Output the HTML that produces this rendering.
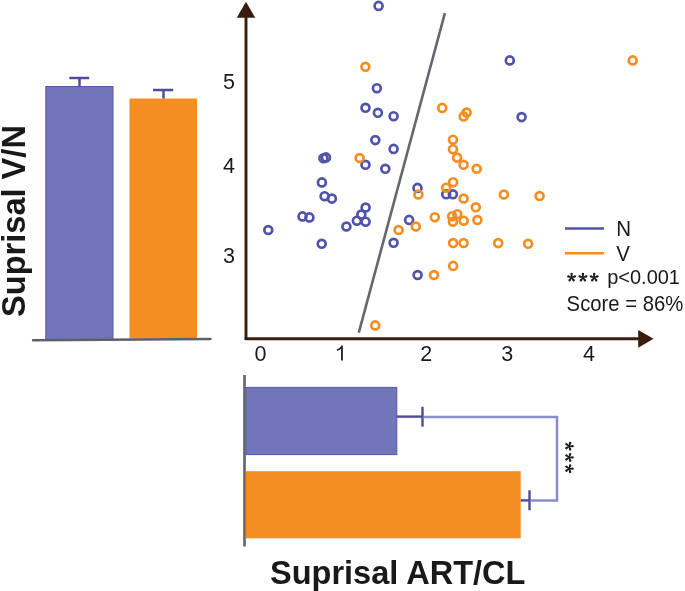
<!DOCTYPE html>
<html><head><meta charset="utf-8"><style>
html,body{margin:0;padding:0;background:#fff;}
body{width:685px;height:591px;overflow:hidden;position:relative;}
svg{position:absolute;left:0;top:0;will-change:transform;}
text{font-family:"Liberation Sans",sans-serif;}
</style></head><body>
<svg width="685" height="591" viewBox="0 0 685 591">
<!-- top-left bar chart -->
<rect x="45.8" y="86.5" width="67.2" height="253" fill="#7175b9" stroke="#5558a8" stroke-width="1"/>
<rect x="129.5" y="98.5" width="67.5" height="240" fill="#f48d22"/>
<g stroke="#4e4e94" stroke-width="2.5" fill="none">
<line x1="79.5" y1="78" x2="79.5" y2="86.5"/>
<line x1="69.3" y1="78" x2="89.3" y2="78"/>
<line x1="163.5" y1="90" x2="163.5" y2="98.5"/>
<line x1="153" y1="90" x2="173.2" y2="90"/>
</g>
<line x1="33" y1="340.2" x2="210.5" y2="339" stroke="#5e6068" stroke-width="2.4" stroke-linecap="round"/>
<text transform="translate(24.6,317) rotate(-90)" font-size="32.6" font-weight="bold" fill="#1a1818">Suprisal V/N</text>

<!-- scatter axes -->
<g stroke="#3a1d0e" fill="none">
<line x1="246" y1="14" x2="246" y2="338.8" stroke-width="2.9"/>
<line x1="244.6" y1="338.8" x2="640" y2="338.8" stroke-width="2.9"/>
</g>
<polygon points="246,1.7 236.7,17.8 255.2,17.8" fill="#3a1d0e"/>
<polygon points="653.6,338.8 638.2,329.9 638.2,347.8" fill="#3a1d0e"/>
<g font-size="21.5" fill="#1a1a1a">
<text x="229" y="89" text-anchor="middle">5</text>
<text x="229" y="173" text-anchor="middle">4</text>
<text x="229" y="263.4" text-anchor="middle">3</text>
<text x="260.4" y="360.5" text-anchor="middle">0</text>
<text x="426.3" y="360.5" text-anchor="middle">2</text>
<text x="507.2" y="360.5" text-anchor="middle">3</text>
<text x="589" y="360.5" text-anchor="middle">4</text>
</g>
<path d="M341.95 345.4V360.4M342.3 346.2C341.2 348.2 339.5 349.4 337.0 350.3" stroke="#1a1a1a" stroke-width="1.75" fill="none"/>
<!-- regression line -->
<line x1="444.9" y1="13.2" x2="358.8" y2="332.6" stroke="#66676d" stroke-width="2.6"/>
<!-- points -->
<g fill="none" stroke="#5053aa" stroke-width="2.7">
<circle cx="378.6" cy="5.9" r="3.95"/>
<circle cx="509.8" cy="60.4" r="3.95"/>
<circle cx="376.9" cy="88.2" r="3.95"/>
<circle cx="365.5" cy="107.8" r="3.95"/>
<circle cx="377.9" cy="112.8" r="3.95"/>
<circle cx="393.6" cy="116.2" r="3.95"/>
<circle cx="521.6" cy="117.1" r="3.95"/>
<circle cx="375.3" cy="140.1" r="3.95"/>
<circle cx="393.6" cy="148.9" r="3.95"/>
<circle cx="323.4" cy="158.2" r="3.95"/>
<circle cx="326.0" cy="157.4" r="3.95"/>
<circle cx="365.5" cy="164.8" r="3.95"/>
<circle cx="385.3" cy="168.8" r="3.95"/>
<circle cx="321.9" cy="182.4" r="3.95"/>
<circle cx="324.6" cy="196.2" r="3.95"/>
<circle cx="331.9" cy="198.6" r="3.95"/>
<circle cx="417.5" cy="187.9" r="3.95"/>
<circle cx="446.2" cy="194.3" r="3.95"/>
<circle cx="452.9" cy="194.3" r="3.95"/>
<circle cx="365.6" cy="207.5" r="3.95"/>
<circle cx="361.3" cy="214.6" r="3.95"/>
<circle cx="302.5" cy="216.4" r="3.95"/>
<circle cx="309.4" cy="217.4" r="3.95"/>
<circle cx="356.9" cy="220.7" r="3.95"/>
<circle cx="365.6" cy="221.7" r="3.95"/>
<circle cx="346.4" cy="226.5" r="3.95"/>
<circle cx="268.3" cy="230.0" r="3.95"/>
<circle cx="409.1" cy="219.9" r="3.95"/>
<circle cx="393.6" cy="242.8" r="3.95"/>
<circle cx="321.7" cy="243.8" r="3.95"/>
<circle cx="417.6" cy="275.0" r="3.95"/>
</g>
<g fill="none" stroke="#f48d22" stroke-width="2.7">
<circle cx="365.4" cy="66.8" r="3.95"/>
<circle cx="632.7" cy="60.4" r="3.95"/>
<circle cx="442.2" cy="107.9" r="3.95"/>
<circle cx="466.6" cy="112.6" r="3.95"/>
<circle cx="463.6" cy="116.4" r="3.95"/>
<circle cx="453.0" cy="139.7" r="3.95"/>
<circle cx="453.0" cy="149.2" r="3.95"/>
<circle cx="457.1" cy="157.6" r="3.95"/>
<circle cx="359.6" cy="158.0" r="3.95"/>
<circle cx="463.6" cy="164.8" r="3.95"/>
<circle cx="476.7" cy="168.8" r="3.95"/>
<circle cx="453.1" cy="182.2" r="3.95"/>
<circle cx="446.2" cy="187.7" r="3.95"/>
<circle cx="418.4" cy="194.5" r="3.95"/>
<circle cx="463.6" cy="198.5" r="3.95"/>
<circle cx="503.9" cy="194.5" r="3.95"/>
<circle cx="539.6" cy="196.0" r="3.95"/>
<circle cx="475.8" cy="207.3" r="3.95"/>
<circle cx="434.8" cy="217.2" r="3.95"/>
<circle cx="452.2" cy="216.2" r="3.95"/>
<circle cx="457.3" cy="214.2" r="3.95"/>
<circle cx="452.9" cy="221.7" r="3.95"/>
<circle cx="463.7" cy="220.7" r="3.95"/>
<circle cx="477.4" cy="220.0" r="3.95"/>
<circle cx="415.8" cy="226.5" r="3.95"/>
<circle cx="398.6" cy="230.0" r="3.95"/>
<circle cx="453.1" cy="243.0" r="3.95"/>
<circle cx="463.6" cy="243.0" r="3.95"/>
<circle cx="498.2" cy="243.1" r="3.95"/>
<circle cx="528.1" cy="243.8" r="3.95"/>
<circle cx="453.1" cy="265.9" r="3.95"/>
<circle cx="434.0" cy="275.0" r="3.95"/>
<circle cx="375.2" cy="325.4" r="3.95"/>
</g>
<!-- legend -->
<line x1="565" y1="228.5" x2="604" y2="228.5" stroke="#5052a4" stroke-width="2.6"/>
<line x1="565" y1="253.2" x2="604" y2="253.2" stroke="#f48d22" stroke-width="2.6"/>
<g font-size="20.5" fill="#1a1a1a">
<text transform="translate(616.3,236.1) scale(1,1.07)">N</text>
<text transform="translate(616.2,261.3) scale(1,1.065)">V</text>
<text transform="translate(607.2,284) scale(0.975,1)">p&lt;0.001</text>
<text transform="translate(566.6,311.1) scale(0.99,1.07)">Score = 86%</text>
</g>

<!-- bottom bar chart -->
<rect x="245.8" y="387.4" width="151" height="67.2" fill="#7175b9" stroke="#5558a8" stroke-width="1"/>
<rect x="245.8" y="471.2" width="274.9" height="67.1" fill="#f48d22"/>
<line x1="244.5" y1="375" x2="244.5" y2="546.5" stroke="#67686e" stroke-width="2.7"/>
<g stroke="#4c4c96" stroke-width="2.4" fill="none">
<line x1="396.8" y1="416.6" x2="422.5" y2="416.6"/>
<line x1="422.5" y1="406.8" x2="422.5" y2="426.7"/>
<line x1="520.7" y1="500.4" x2="529.5" y2="500.4"/>
<line x1="529.5" y1="490.3" x2="529.5" y2="510.3"/>
</g>
<polyline points="423.7,416.9 557,416.9 557,500.5 530.9,500.5" fill="none" stroke="#8b8dc9" stroke-width="2.5"/>
<path d="M572.10 277.50L572.80 274.05A1.2 1.2 0 0 0 570.40 274.05L571.10 277.50ZM571.75 277.98L575.25 277.58A1.2 1.2 0 0 0 574.51 275.29L571.45 277.02ZM571.20 277.79L572.66 281.00A1.2 1.2 0 0 0 574.60 279.59L572.00 277.21ZM571.20 277.21L568.60 279.59A1.2 1.2 0 0 0 570.54 281.00L572.00 277.79ZM571.75 277.02L568.69 275.29A1.2 1.2 0 0 0 567.95 277.58L571.45 277.98ZM583.40 277.50L584.10 274.05A1.2 1.2 0 0 0 581.70 274.05L582.40 277.50ZM583.05 277.98L586.55 277.58A1.2 1.2 0 0 0 585.81 275.29L582.75 277.02ZM582.50 277.79L583.96 281.00A1.2 1.2 0 0 0 585.90 279.59L583.30 277.21ZM582.50 277.21L579.90 279.59A1.2 1.2 0 0 0 581.84 281.00L583.30 277.79ZM583.05 277.02L579.99 275.29A1.2 1.2 0 0 0 579.25 277.58L582.75 277.98ZM594.70 277.50L595.40 274.05A1.2 1.2 0 0 0 593.00 274.05L593.70 277.50ZM594.35 277.98L597.85 277.58A1.2 1.2 0 0 0 597.11 275.29L594.05 277.02ZM593.80 277.79L595.26 281.00A1.2 1.2 0 0 0 597.20 279.59L594.60 277.21ZM593.80 277.21L591.20 279.59A1.2 1.2 0 0 0 593.14 281.00L594.60 277.79ZM594.35 277.02L591.29 275.29A1.2 1.2 0 0 0 590.55 277.58L594.05 277.98ZM569.10 446.65L572.55 447.35A1.2 1.2 0 0 0 572.55 444.95L569.10 445.65ZM568.62 446.30L569.02 449.80A1.2 1.2 0 0 0 571.31 449.06L569.58 446.00ZM568.81 445.75L565.60 447.21A1.2 1.2 0 0 0 567.01 449.15L569.39 446.55ZM569.39 445.75L567.01 443.15A1.2 1.2 0 0 0 565.60 445.09L568.81 446.55ZM569.58 446.30L571.31 443.24A1.2 1.2 0 0 0 569.02 442.50L568.62 446.00ZM569.10 457.90L572.55 458.60A1.2 1.2 0 0 0 572.55 456.20L569.10 456.90ZM568.62 457.55L569.02 461.05A1.2 1.2 0 0 0 571.31 460.31L569.58 457.25ZM568.81 457.00L565.60 458.46A1.2 1.2 0 0 0 567.01 460.40L569.39 457.80ZM569.39 457.00L567.01 454.40A1.2 1.2 0 0 0 565.60 456.34L568.81 457.80ZM569.58 457.55L571.31 454.49A1.2 1.2 0 0 0 569.02 453.75L568.62 457.25ZM569.10 469.15L572.55 469.85A1.2 1.2 0 0 0 572.55 467.45L569.10 468.15ZM568.62 468.80L569.02 472.30A1.2 1.2 0 0 0 571.31 471.56L569.58 468.50ZM568.81 468.25L565.60 469.71A1.2 1.2 0 0 0 567.01 471.65L569.39 469.05ZM569.39 468.25L567.01 465.65A1.2 1.2 0 0 0 565.60 467.59L568.81 469.05ZM569.58 468.80L571.31 465.74A1.2 1.2 0 0 0 569.02 465.00L568.62 468.50Z" fill="#1a1a1a"/>
<text transform="translate(270,583.9) scale(0.992,1)" font-size="32.8" font-weight="bold" fill="#1a1818">Suprisal ART/CL</text>
</svg>
</body></html>
